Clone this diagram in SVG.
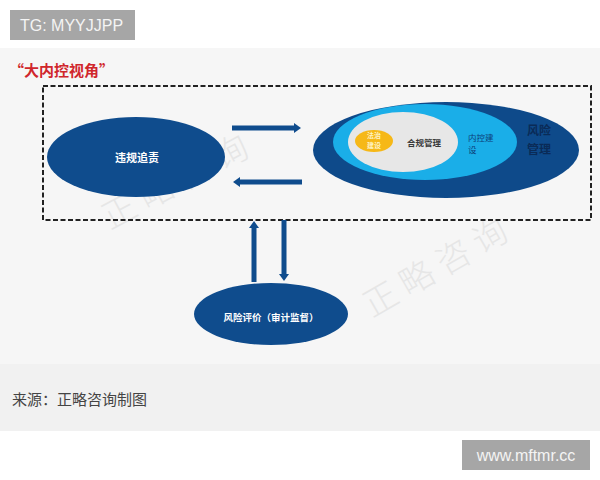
<svg xmlns="http://www.w3.org/2000/svg" width="600" height="480" viewBox="0 0 600 480">
<style>
.cjk{font-family:"Noto Sans CJK SC","Noto Sans",sans-serif}
.lbl{font-family:"Liberation Sans",Arial,sans-serif;fill:#f4f4f4;font-size:16px}
.dark{fill:#0f4c8d}
.wm{font-family:"Noto Sans CJK SC",sans-serif;font-size:34px;font-weight:300;fill:#e6e6e6;letter-spacing:8px}
.conn{stroke:#0f4c8d;stroke-width:5;fill:none}
</style>
<defs>
<marker id="ah" markerUnits="userSpaceOnUse" markerWidth="8" markerHeight="12" refX="1" refY="6" orient="auto">
<path d="M0,1 L7,6 L0,11 Z" fill="#0f4c8d"/>
</marker>
</defs>
<rect x="0" y="0" width="600" height="480" fill="#ffffff"/>
<rect x="0" y="48" width="600" height="316" fill="#f6f6f6"/>
<rect x="0" y="364" width="600" height="67" fill="#f1f1f1"/>
<g id="tg-label">
<rect x="10" y="10" width="125" height="30" fill="#a6a6a6"/>
<text class="lbl" x="20" y="31">TG: MYYJJPP</text>
</g>
<g id="watermarks">
<text class="wm" transform="translate(110,230) rotate(-28)">正略咨询</text>
<text class="wm" transform="translate(372,318) rotate(-30)">正略咨询</text>
</g>
<text class="cjk" x="9" y="76" font-size="15" font-weight="bold" fill="#d0262c">“大内控视角”</text>
<rect id="scope" x="43" y="86" width="548" height="134" fill="none" stroke="#222" stroke-width="2" stroke-dasharray="5,2.5"/>
<g id="connectors">
<line class="conn" x1="232" y1="128" x2="295" y2="128" marker-end="url(#ah)"/>
<line class="conn" x1="302" y1="182" x2="239" y2="182" marker-end="url(#ah)"/>
<line class="conn" x1="254" y1="282" x2="254" y2="227" marker-end="url(#ah)"/>
<line class="conn" x1="284" y1="220" x2="284" y2="275" marker-end="url(#ah)"/>
</g>
<g id="node-violation">
<ellipse cx="136" cy="157" rx="89" ry="40" class="dark"/>
<text class="cjk" x="137" y="162" font-size="11" font-weight="bold" fill="#ffffff" text-anchor="middle">违规追责</text>
</g>
<g id="node-risk-mgmt">
<ellipse cx="446" cy="150" rx="133" ry="48" fill="#0e4a8a"/>
<text class="cjk" x="539" y="135" font-size="12" font-weight="bold" fill="#0a2b57" text-anchor="middle">风险</text>
<text class="cjk" x="539" y="154" font-size="12" font-weight="bold" fill="#0a2b57" text-anchor="middle">管理</text>
</g>
<g id="node-internal-control">
<ellipse cx="425" cy="142" rx="92" ry="38" fill="#1aaee8"/>
<text class="cjk" x="468" y="141" font-size="8.5" fill="#0d3f78">内控建</text>
<text class="cjk" x="468" y="153" font-size="8.5" fill="#0d3f78">设</text>
</g>
<g id="node-compliance">
<ellipse cx="403" cy="142" rx="55" ry="30" fill="#e7e7e7"/>
<text class="cjk" x="424" y="146" font-size="8.5" font-weight="bold" fill="#3a3a3a" text-anchor="middle">合规管理</text>
</g>
<g id="node-legal">
<ellipse cx="374" cy="141" rx="19" ry="11" fill="#f6b817"/>
<text class="cjk" x="374" y="138" font-size="7" font-weight="bold" fill="#fff3c4" text-anchor="middle">法治</text>
<text class="cjk" x="374" y="148" font-size="7" font-weight="bold" fill="#fff3c4" text-anchor="middle">建设</text>
</g>
<g id="node-risk-eval">
<ellipse cx="271" cy="314" rx="77" ry="31" class="dark"/>
<text class="cjk" x="271" y="321" font-size="9.5" font-weight="bold" fill="#ffffff" text-anchor="middle">风险评价（审计监督）</text>
</g>
<text class="cjk" x="12" y="405" font-size="15" fill="#444444">来源：正略咨询制图</text>
<g id="site-label">
<rect x="462" y="440" width="128" height="30" fill="#a6a6a6"/>
<text class="lbl" x="526" y="461" text-anchor="middle">www.mftmr.cc</text>
</g>
</svg>
